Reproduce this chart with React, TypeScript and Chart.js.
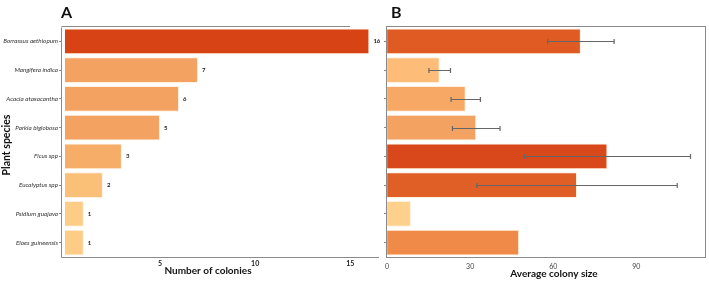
import React, { useEffect, useRef } from "react";
import { Chart, registerables } from "chart.js";

Chart.register(...registerables);

const species = [
  "Borrassus aethiopum",
  "Mangifera indica",
  "Acacia ataxacantha",
  "Parkia biglobosa",
  "Ficus spp",
  "Eucalyptus spp",
  "Psidium guajava",
  "Elaes guineensis",
];
const colonies = [16, 7, 6, 5, 3, 2, 1, 1];
const coloniesColors = ["#d84315", "#f4a261", "#f4a261", "#f4a261", "#f6ad68", "#fbc078", "#fdcc86", "#fdcc86"];
const avgSize = [70, 19, 28.4, 32.2, 79.6, 68.6, 8.6, 47.7];
const avgSizeErr = [12, 3.9, 5.3, 8.6, 30, 36.2, null, null];
const avgSizeColors = ["#e05a24", "#fdbd78", "#f6a864", "#f4a262", "#d9481a", "#e05f27", "#fdd08b", "#ef8a48"];
const ticksA = [5, 10, 15];
const ticksB = [0, 30, 60, 90];

const FONT = "Lato, 'Open Sans', sans-serif";
const AXIS = "#8a8a8a";

function useChart(ref: React.RefObject<HTMLCanvasElement | null>, make: (c: HTMLCanvasElement) => Chart) {
  useEffect(() => {
    if (!ref.current) return;
    const ch = make(ref.current);
    return () => ch.destroy();
  }, []);
}

export default function App() {
  const refA = useRef<HTMLCanvasElement>(null);
  const refB = useRef<HTMLCanvasElement>(null);

  useChart(refA, (c) =>
    new Chart(c, {
      type: "bar",
      data: {
        labels: species,
        datasets: [
          {
            data: colonies,
            backgroundColor: coloniesColors,
            borderColor: "rgba(255,238,220,0.9)",
            borderWidth: 1,
            categoryPercentage: 1,
            barPercentage: 0.9,
          },
        ],
      },
      options: {
        indexAxis: "y",
        animation: false,
        responsive: false,
        maintainAspectRatio: false,
        layout: { padding: { top: 27, right: 3, left: 0, bottom: 0 } },
        plugins: { legend: { display: false }, tooltip: { enabled: false } },
        scales: {
          y: {
            type: "category",
            position: "left",
            afterFit: (s: any) => { s.width = 61; },
            border: { display: false },
            grid: { display: true, drawOnChartArea: false, offset: false, tickLength: 2, color: AXIS },
            ticks: { padding: 1, color: "#333", font: { family: FONT, size: 6.3, style: "italic" } },
          },
          x: {
            type: "linear",
            min: -0.2,
            max: 16.4,
            afterFit: (s: any) => { s.height = 24; },
            afterBuildTicks: (s: any) => { s.ticks = ticksA.map((v) => ({ value: v })); },
            border: { display: false },
            grid: { display: false },
            ticks: { padding: -5.5, color: "#222", font: { family: FONT, size: 7, weight: "bold" } },
          },
        },
      },
      plugins: [
        {
          id: "decoA",
          afterDatasetsDraw(chart: any) {
            const { ctx, chartArea: a } = chart;
            ctx.save();
            ctx.strokeStyle = AXIS;
            ctx.lineWidth = 1;
            ctx.beginPath();
            ctx.moveTo(a.left + 0.5, a.top + 0.5);
            ctx.lineTo(a.left + 0.5, a.bottom + 0.5);
            ctx.lineTo(a.right + 2, a.bottom + 0.5);
            ctx.moveTo(a.left + 0.5, a.top - 0.5);
            ctx.lineTo(350, a.top - 0.5);
            ctx.stroke();
            const meta = chart.getDatasetMeta(0);
            ctx.fillStyle = "#222";
            ctx.font = `bold 6px ${FONT}`;
            ctx.textAlign = "left";
            ctx.textBaseline = "middle";
            meta.data.forEach((el: any, i: number) => {
              ctx.fillText(String(colonies[i]), el.x + 4, el.y);
            });
            ctx.fillStyle = "#111";
            ctx.font = `bold 16px ${FONT}`;
            ctx.textAlign = "left";
            ctx.textBaseline = "alphabetic";
            ctx.fillText("A", 61, 18);
            ctx.font = `bold 10px ${FONT}`;
            ctx.textAlign = "center";
            ctx.textBaseline = "middle";
            ctx.fillText("Number of colonies", 208, 271);
            ctx.translate(6.5, 145);
            ctx.rotate(-Math.PI / 2);
            ctx.font = `bold 10.5px ${FONT}`;
            ctx.fillText("Plant species", 0, 0);
            ctx.restore();
          },
        },
      ],
    } as any)
  );

  useChart(refB, (c) =>
    new Chart(c, {
      type: "bar",
      data: {
        labels: species,
        datasets: [
          {
            data: avgSize,
            backgroundColor: avgSizeColors,
            borderColor: "rgba(255,238,220,0.9)",
            borderWidth: 1,
            categoryPercentage: 1,
            barPercentage: 0.9,
          },
        ],
      },
      options: {
        indexAxis: "y",
        animation: false,
        responsive: false,
        maintainAspectRatio: false,
        layout: { padding: { top: 27, right: 3, left: 0, bottom: 0 } },
        plugins: { legend: { display: false }, tooltip: { enabled: false } },
        scales: {
          y: {
            type: "category",
            position: "left",
            afterFit: (s: any) => { s.width = 6; },
            border: { display: false },
            grid: { display: true, drawOnChartArea: false, offset: false, tickLength: 2, color: AXIS },
            ticks: { display: false },
          },
          x: {
            type: "linear",
            min: -0.4,
            max: 115.2,
            afterFit: (s: any) => { s.height = 24; },
            afterBuildTicks: (s: any) => { s.ticks = ticksB.map((v) => ({ value: v })); },
            border: { display: false },
            grid: { display: false },
            ticks: { padding: -2, color: "#444", font: { family: FONT, size: 7 } },
          },
        },
      },
      plugins: [
        {
          id: "decoB",
          afterDatasetsDraw(chart: any) {
            const { ctx, chartArea: a, scales } = chart;
            ctx.save();
            ctx.strokeStyle = AXIS;
            ctx.lineWidth = 1;
            ctx.strokeRect(a.left + 0.5, a.top - 0.5, a.right - a.left - 1, a.bottom - a.top + 1);
            const meta = chart.getDatasetMeta(0);
            ctx.strokeStyle = "#666";
            ctx.lineWidth = 1.2;
            meta.data.forEach((el: any, i: number) => {
              const e = avgSizeErr[i];
              if (e == null) return;
              const x1 = scales.x.getPixelForValue(avgSize[i] - e);
              const x2 = scales.x.getPixelForValue(avgSize[i] + e);
              const y = Math.round(el.y) + 0.5;
              ctx.beginPath();
              ctx.moveTo(x1, y);
              ctx.lineTo(x2, y);
              ctx.moveTo(x1, y - 2.5);
              ctx.lineTo(x1, y + 2.5);
              ctx.moveTo(x2, y - 2.5);
              ctx.lineTo(x2, y + 2.5);
              ctx.stroke();
            });
            ctx.fillStyle = "#111";
            ctx.font = `bold 16px ${FONT}`;
            ctx.textAlign = "left";
            ctx.textBaseline = "alphabetic";
            ctx.fillText("B", 11, 18);
            ctx.font = `bold 10px ${FONT}`;
            ctx.textAlign = "center";
            ctx.textBaseline = "middle";
            ctx.fillText("Average colony size", 174, 274);
            ctx.restore();
          },
        },
      ],
    } as any)
  );

  return (
    <div style={{ position: "fixed", left: 0, top: 0, width: 709, height: 281, background: "#fff" }}>
      <canvas ref={refA} width={380} height={281} style={{ position: "absolute", left: 0, top: 0, width: 380, height: 281 }} />
      <canvas ref={refB} width={329} height={281} style={{ position: "absolute", left: 380, top: 0, width: 329, height: 281 }} />
    </div>
  );
}
